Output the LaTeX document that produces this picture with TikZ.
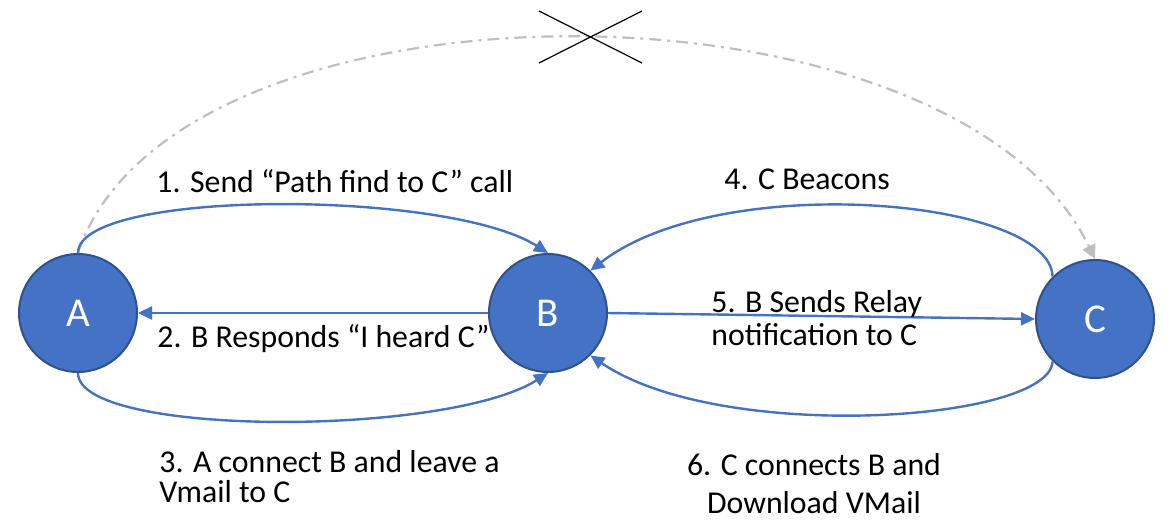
\documentclass[tikz,border=0pt]{standalone}
\usepackage{fontspec}
\setmainfont{Carlito}
\usetikzlibrary{arrows.meta}
\definecolor{nodeblue}{HTML}{4472C4}
\definecolor{rimblue}{HTML}{2F528F}
\definecolor{dashgray}{HTML}{BFBFBF}

\begin{document}
\begin{tikzpicture}[x=0.5pt,y=-0.5pt,
  station/.style={circle,fill=nodeblue,draw=rimblue,line width=1pt,
    minimum size=59pt,inner sep=0pt,text=white,
    font=\fontsize{20.5}{24}\selectfont},
  link/.style={draw=nodeblue,line width=1.2pt,-{Triangle[length=7pt,width=6.5pt]}},
  relay/.style={draw=dashgray,line width=1.1pt,
    dash pattern=on 6pt off 3pt on 1.5pt off 3pt,
    -{Triangle[length=7pt,width=7pt]}},
  note/.style={font=\fontsize{15.9}{19}\selectfont,inner sep=0pt}]
  \useasboundingbox (0,0) rectangle (1168,521);

  % the three stations
  \node[station] (A) at (78,313) {A};
  \node[station] (B) at (548,313) {B};
  \node[station] (C) at (1095,319) {C};

  % direct path A to C, which fails
  \draw[relay] (A.north) .. controls (174,-35) and (953,-35) .. (C.north);
  \draw[line width=0.6pt] (539,11) -- (642,63) (539,63) -- (642,11);

  % A and B
  \draw[link] (A.north) .. controls (78,189) and (447,189) .. (B.north);
  \draw[link] (B.west) -- (A.east);
  \draw[link] (A.south) .. controls (78,437) and (447,437) .. (B.south);

  % B and C
  \draw[link] (C.135) .. controls (1050,198) and (720,170) .. (B.45);
  \draw[link] (B.east) -- (C.west);
  \draw[link] (C.-135) .. controls (1050,422) and (720,444) .. (B.-45);

  % the steps (base of a two line note is its last line)
  \node[note,anchor=base west] (s1) at (156,192) {1. Send “Path find to C” call};
  \node[note,anchor=base west] (s2) at (157,347) {2. B Responds “I heard C”};
  \node[note,anchor=base west,align=left,font=\fontsize{15.9}{15}\selectfont]
    (s3) at (159,502) {3. A connect B and leave a\\Vmail to C};
  \node[note,anchor=base west] (s4) at (724,189) {4. C Beacons};
  \node[note,anchor=base west,align=left,font=\fontsize{15.9}{16.5}\selectfont]
    (s5) at (711,345) {5. B Sends Relay\\notification to C};
  \node[note,anchor=base,align=center,font=\fontsize{15.9}{19}\selectfont]
    (s6) at (814,513) {6. C connects B and\\Download VMail};
\end{tikzpicture}
\end{document}
